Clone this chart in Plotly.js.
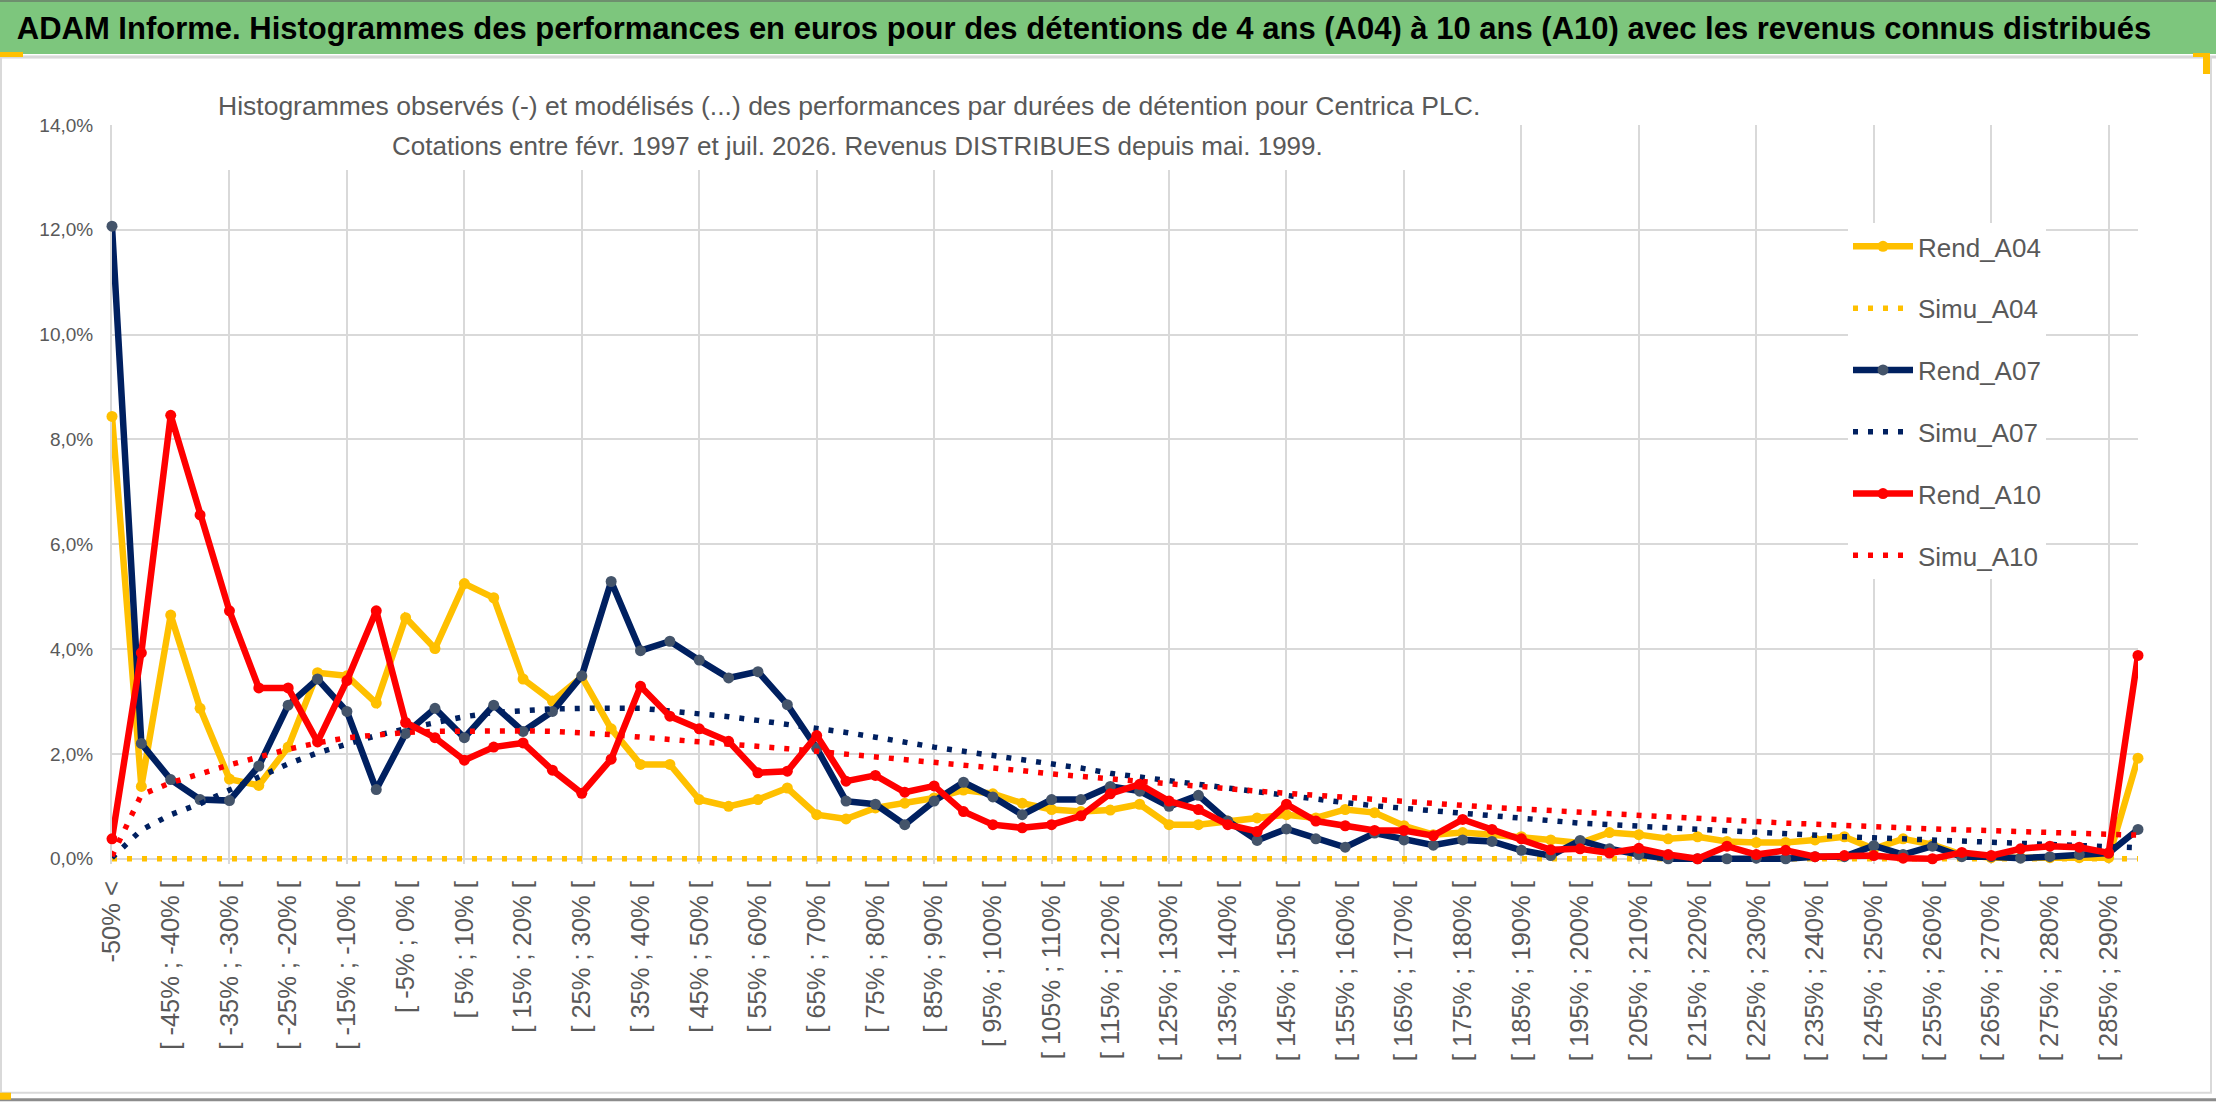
<!DOCTYPE html>
<html>
<head>
<meta charset="utf-8">
<script src="https://cdn.plot.ly/plotly-3.0.1.min.js"></script>
<style>
	html, body { margin: 0; padding: 0; background: white; }
	#chart { width: 2216px; height: 1102px; }
</style>
</head>
<body>
<div id="chart"></div>
<script>
// classes of 5 %, first one is everything below -50 %
const categories = [
	'-50% <', '[ -50% ; -45% [', '[ -45% ; -40% [', '[ -40% ; -35% [', '[ -35% ; -30% [',
	'[ -30% ; -25% [', '[ -25% ; -20% [', '[ -20% ; -15% [', '[ -15% ; -10% [', '[ -10% ; -5% [',
	'[ -5% ; 0% [', '[ 0% ; 5% [', '[ 5% ; 10% [', '[ 10% ; 15% [', '[ 15% ; 20% [',
	'[ 20% ; 25% [', '[ 25% ; 30% [', '[ 30% ; 35% [', '[ 35% ; 40% [', '[ 40% ; 45% [',
	'[ 45% ; 50% [', '[ 50% ; 55% [', '[ 55% ; 60% [', '[ 60% ; 65% [', '[ 65% ; 70% [',
	'[ 70% ; 75% [', '[ 75% ; 80% [', '[ 80% ; 85% [', '[ 85% ; 90% [', '[ 90% ; 95% [',
	'[ 95% ; 100% [', '[ 100% ; 105% [', '[ 105% ; 110% [', '[ 110% ; 115% [', '[ 115% ; 120% [',
	'[ 120% ; 125% [', '[ 125% ; 130% [', '[ 130% ; 135% [', '[ 135% ; 140% [', '[ 140% ; 145% [',
	'[ 145% ; 150% [', '[ 150% ; 155% [', '[ 155% ; 160% [', '[ 160% ; 165% [', '[ 165% ; 170% [',
	'[ 170% ; 175% [', '[ 175% ; 180% [', '[ 180% ; 185% [', '[ 185% ; 190% [', '[ 190% ; 195% [',
	'[ 195% ; 200% [', '[ 200% ; 205% [', '[ 205% ; 210% [', '[ 210% ; 215% [', '[ 215% ; 220% [',
	'[ 220% ; 225% [', '[ 225% ; 230% [', '[ 230% ; 235% [', '[ 235% ; 240% [', '[ 240% ; 245% [',
	'[ 245% ; 250% [', '[ 250% ; 255% [', '[ 255% ; 260% [', '[ 260% ; 265% [', '[ 265% ; 270% [',
	'[ 270% ; 275% [', '[ 275% ; 280% [', '[ 280% ; 285% [', '[ 285% ; 290% [', '> 290%'
];

// frequencies in %
const rend_A04 = [
	8.44, 1.38, 4.65, 2.87, 1.52, 1.40, 2.13, 3.55, 3.49, 2.97,
	4.60, 4.01, 5.25, 4.98, 3.43, 3.01, 3.47, 2.48, 1.80, 1.80,
	1.13, 1.00, 1.13, 1.35, 0.84, 0.76, 0.97, 1.06, 1.16, 1.31,
	1.24, 1.06, 0.94, 0.90, 0.93, 1.04, 0.65, 0.65, 0.72, 0.78,
	0.84, 0.78, 0.94, 0.88, 0.63, 0.46, 0.50, 0.46, 0.42, 0.36,
	0.30, 0.50, 0.46, 0.38, 0.42, 0.33, 0.31, 0.31, 0.36, 0.42,
	0.19, 0.38, 0.27, 0.08, 0.02, 0.02, 0.02, 0.02, 0.02, 1.92
];
const simu_A04 = [
	0, 0, 0, 0, 0, 0, 0, 0, 0, 0,
	0, 0, 0, 0, 0, 0, 0, 0, 0, 0,
	0, 0, 0, 0, 0, 0, 0, 0, 0, 0,
	0, 0, 0, 0, 0, 0, 0, 0, 0, 0,
	0, 0, 0, 0, 0, 0, 0, 0, 0, 0,
	0, 0, 0, 0, 0, 0, 0, 0, 0, 0,
	0, 0, 0, 0, 0, 0, 0, 0, 0, 0
];
const rend_A07 = [
	12.07, 2.20, 1.51, 1.13, 1.11, 1.77, 2.93, 3.43, 2.81, 1.32,
	2.39, 2.87, 2.31, 2.93, 2.43, 2.81, 3.49, 5.29, 3.97, 4.15,
	3.79, 3.45, 3.57, 2.94, 2.11, 1.10, 1.04, 0.65, 1.10, 1.46,
	1.18, 0.84, 1.13, 1.13, 1.38, 1.29, 1.00, 1.21, 0.72, 0.35,
	0.57, 0.38, 0.22, 0.49, 0.36, 0.26, 0.36, 0.33, 0.16, 0.06,
	0.35, 0.19, 0.08, 0.00, 0.00, 0.00, 0.01, 0.00, 0.04, 0.04,
	0.25, 0.08, 0.24, 0.04, 0.04, 0.01, 0.04, 0.08, 0.11, 0.56
];
const simu_A07 = [
	0.02, 0.55, 0.84, 1.05, 1.31, 1.57, 1.81, 2.02, 2.19, 2.35,
	2.48, 2.60, 2.71, 2.79, 2.83, 2.86, 2.87, 2.88, 2.87, 2.82,
	2.77, 2.71, 2.64, 2.57, 2.50, 2.41, 2.32, 2.22, 2.13, 2.05,
	1.97, 1.89, 1.82, 1.73, 1.63, 1.56, 1.48, 1.41, 1.33, 1.26,
	1.20, 1.13, 1.07, 1.01, 0.96, 0.91, 0.87, 0.82, 0.77, 0.73,
	0.68, 0.65, 0.62, 0.58, 0.55, 0.52, 0.49, 0.46, 0.44, 0.42,
	0.40, 0.38, 0.36, 0.33, 0.30, 0.28, 0.26, 0.24, 0.22, 0.21
];
const rend_A10 = [
	0.38, 3.93, 8.46, 6.56, 4.73, 3.26, 3.26, 2.23, 3.40, 4.73,
	2.60, 2.31, 1.88, 2.13, 2.21, 1.69, 1.25, 1.90, 3.29, 2.72,
	2.48, 2.24, 1.64, 1.67, 2.35, 1.48, 1.59, 1.27, 1.39, 0.90,
	0.65, 0.59, 0.65, 0.82, 1.24, 1.42, 1.10, 0.94, 0.65, 0.52,
	1.04, 0.72, 0.63, 0.54, 0.54, 0.44, 0.75, 0.56, 0.38, 0.17,
	0.19, 0.11, 0.20, 0.08, 0.00, 0.24, 0.08, 0.16, 0.04, 0.06,
	0.06, 0.01, 0.00, 0.12, 0.06, 0.19, 0.24, 0.22, 0.11, 3.88
];
const simu_A10 = [
	0.05, 1.22, 1.45, 1.63, 1.79, 1.94, 2.09, 2.21, 2.31, 2.36,
	2.41, 2.43, 2.44, 2.44, 2.44, 2.43, 2.41, 2.37, 2.32, 2.28,
	2.24, 2.20, 2.15, 2.10, 2.05, 2.00, 1.94, 1.89, 1.84, 1.79,
	1.73, 1.68, 1.62, 1.57, 1.52, 1.48, 1.44, 1.39, 1.34, 1.29,
	1.25, 1.21, 1.17, 1.12, 1.09, 1.06, 1.02, 0.98, 0.95, 0.92,
	0.88, 0.84, 0.81, 0.78, 0.75, 0.73, 0.70, 0.68, 0.66, 0.63,
	0.61, 0.59, 0.57, 0.55, 0.53, 0.51, 0.49, 0.47, 0.46, 0.45
];

const mainTitle = 'ADAM Informe. Histogrammes des performances en euros pour des détentions de 4 ans (A04) à 10 ans (A10) avec les revenus connus distribués';
const subTitle1 = 'Histogrammes observés (-) et modélisés (...) des performances par durées de détention pour Centrica PLC.';
const subTitle2 = 'Cotations entre févr. 1997 et juil. 2026. Revenus DISTRIBUES depuis mai. 1999.';

const W = 2216, H = 1102;
// plot box: 14 % at T, 0 % at Z; the box goes a few pixels below 0 %
// so that lines lying on the zero level are not cut in half
const yMin = -0.1, yMax = 14;
const L = 112, R = 2138, T = 125, Z = 859;
const B = Z + (Z - T) * (0 - yMin) / yMax;
const px = p => (p - L) / (R - L);
const py = p => (B - p) / (B - T);

const font = 'Liberation Sans, Arial, sans-serif';
const grey = '#595959';
const gridGrey = '#D9D9D9';

const yellow = '#FFC000';
const navy = '#002060';
const red = '#FF0000';

function rend(name, y, color, markerColor) {
	return {
		name: name, legendgroup: name, x: categories, y: y, type: 'scatter', mode: 'lines+markers',
		line: {color: color, width: 6.5}, marker: {color: markerColor, size: 11},
		cliponaxis: false, hoverinfo: 'skip'
	};
}

function simu(name, y, color) {
	return {
		name: name, legendgroup: name, x: categories, y: y, type: 'scatter', mode: 'lines',
		line: {color: color, width: 5.5, dash: '5px,10px'},
		cliponaxis: false, hoverinfo: 'skip'
	};
}

// every 4th class carries a gridline, the classes in between only a label
const gridCats = categories.filter((c, i) => i % 4 === 0);
const midIdx = categories.map((c, i) => i).filter(i => i % 4 === 2);
const midText = midIdx.map(i => categories[i]);

const traces = [
	// empty trace so that the second label axis gets drawn
	{x: midIdx, y: midIdx.map(() => null), xaxis: 'x2', type: 'scatter', mode: 'lines',
		showlegend: false, hoverinfo: 'skip'},
	rend('Rend_A04', rend_A04, yellow, yellow),
	simu('Simu_A04', simu_A04, yellow),
	rend('Rend_A07', rend_A07, navy, '#44546A'),
	simu('Simu_A07', simu_A07, navy),
	rend('Rend_A10', rend_A10, red, red),
	simu('Simu_A10', simu_A10, red),
];

const tickFont = {family: font, size: 25.5, color: grey};

const layout = {
	width: W, height: H, autosize: false,
	margin: {l: L, r: W - R, t: T, b: H - B, pad: 0},
	paper_bgcolor: 'white', plot_bgcolor: 'white',
	separators: ', ',
	showlegend: true,
	title: {
		text: '<b>' + mainTitle + '</b>',
		font: {family: font, size: 31, color: '#000000'},
		xref: 'container', yref: 'container', x: 1084 / W, y: 1 - 28 / H,
		xanchor: 'center', yanchor: 'middle'
	},
	xaxis: {
		type: 'category', range: [0, categories.length - 1],
		tickmode: 'array', tickvals: gridCats, ticktext: gridCats,
		tickangle: -90, tickfont: tickFont, ticks: '', ticklabelstandoff: 11,
		showgrid: true, gridcolor: gridGrey, gridwidth: 2,
		showline: false, zeroline: false,
		layer: 'below traces', fixedrange: true
	},
	xaxis2: {
		overlaying: 'x', anchor: 'y', side: 'bottom', type: 'linear',
		range: [0, categories.length - 1],
		tickmode: 'array', tickvals: midIdx, ticktext: midText,
		tickangle: -90, tickfont: tickFont, ticks: '', ticklabelstandoff: 11,
		showgrid: false, showline: false, zeroline: false,
		layer: 'below traces', fixedrange: true
	},
	yaxis: {
		range: [yMin, yMax], tickmode: 'linear', tick0: 0, dtick: 2,
		tickformat: '.1f', ticksuffix: '%',
		tickfont: {family: font, size: 19, color: grey}, ticks: '', ticklabelstandoff: 13,
		showgrid: true, gridcolor: gridGrey, gridwidth: 2,
		showline: true, linecolor: gridGrey, linewidth: 2,
		zeroline: true, zerolinecolor: gridGrey, zerolinewidth: 2,
		layer: 'below traces', fixedrange: true
	},
	legend: {
		x: px(1848), y: py(223), xanchor: 'left', yanchor: 'top',
		bgcolor: 'white', borderwidth: 0,
		font: {family: font, size: 26, color: grey},
		traceorder: 'grouped', tracegroupgap: 25, itemwidth: 60
	},
	shapes: [
		// green banner
		{type: 'rect', xref: 'paper', yref: 'paper', x0: px(0), x1: px(W), y0: py(54), y1: py(0),
			fillcolor: '#7DC67D', line: {width: 0}, layer: 'above'},
		{type: 'line', xref: 'paper', yref: 'paper', x0: px(0), x1: px(W), y0: py(1), y1: py(1),
			line: {color: '#6E8F6E', width: 2}, layer: 'above'},
		{type: 'line', xref: 'paper', yref: 'paper', x0: px(0), x1: px(W), y0: py(57), y1: py(57),
			line: {color: '#D4D4D4', width: 3}, layer: 'above'},
		// chart frame
		{type: 'rect', xref: 'paper', yref: 'paper', x0: px(1), x1: px(2211), y0: py(1093), y1: py(57),
			fillcolor: 'rgba(0,0,0,0)', line: {color: '#D9D9D9', width: 2}, layer: 'above'},
		{type: 'line', xref: 'paper', yref: 'paper', x0: px(0), x1: px(W), y0: py(1100), y1: py(1100),
			line: {color: '#8C8C8C', width: 3}, layer: 'above'},
		// white box behind the chart title
		{type: 'rect', xref: 'paper', yref: 'paper', x0: px(212), x1: px(1490), y0: py(170), y1: py(60),
			fillcolor: 'white', line: {width: 0}, layer: 'above'},
		// selection handles
		{type: 'rect', xref: 'paper', yref: 'paper', x0: px(0), x1: px(23), y0: py(57), y1: py(52),
			fillcolor: '#FFC000', line: {width: 0}, layer: 'above'},
		{type: 'rect', xref: 'paper', yref: 'paper', x0: px(2203), x1: px(2210), y0: py(74), y1: py(53),
			fillcolor: '#FFC000', line: {width: 0}, layer: 'above'},
		{type: 'rect', xref: 'paper', yref: 'paper', x0: px(2193), x1: px(2210), y0: py(57), y1: py(53),
			fillcolor: '#FFC000', line: {width: 0}, layer: 'above'},
		{type: 'rect', xref: 'paper', yref: 'paper', x0: px(0), x1: px(11), y0: py(1100), y1: py(1093),
			fillcolor: '#FFC000', line: {width: 0}, layer: 'above'},
	],
	annotations: [
		{text: subTitle1, xref: 'paper', yref: 'paper', x: px(849), y: py(106),
			xanchor: 'center', yanchor: 'middle', showarrow: false,
			font: {family: font, size: 26.5, color: grey}},
		{text: subTitle2, xref: 'paper', yref: 'paper', x: px(857), y: py(146),
			xanchor: 'center', yanchor: 'middle', showarrow: false,
			font: {family: font, size: 26, color: grey}},
	]
};

Plotly.newPlot('chart', traces, layout, {displayModeBar: false, staticPlot: true});
</script>
</body>
</html>
